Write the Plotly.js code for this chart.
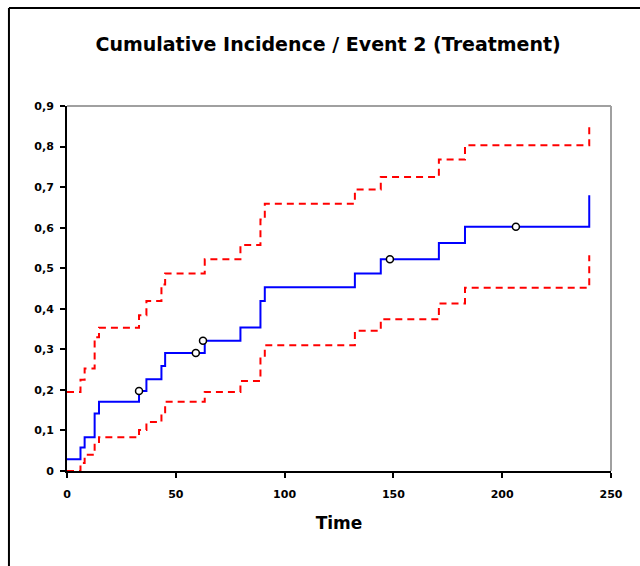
<!DOCTYPE html>
<html>
<head>
<meta charset="utf-8">
<script src="https://cdn.plot.ly/plotly-3.0.1.min.js"></script>
<style>
html,body{margin:0;padding:0;background:#fff;}
#chart{width:640px;height:566px;}
</style>
</head>
<body>
<div id="chart"></div>
<script>
// Step times (event times)
const times = [0, 6.2, 8.1, 12.7, 14.7, 33.1, 36.5, 43.4, 45.1, 63.3, 79.7, 88.9, 90.9, 132.3, 144.2, 170.9, 182.9, 240.0];
// Cumulative incidence estimate
const cif   = [0.029, 0.058, 0.083, 0.142, 0.171, 0.197, 0.226, 0.259, 0.291, 0.321, 0.354, 0.419, 0.453, 0.487, 0.522, 0.562, 0.602, 0.68];
// Upper confidence bound
const upper = [0.195, 0.225, 0.253, 0.33, 0.353, 0.384, 0.419, 0.46, 0.487, 0.522, 0.557, 0.62, 0.659, 0.694, 0.725, 0.768, 0.803, 0.85];
// Lower confidence bound
const lower = [0, 0.02, 0.04, 0.065, 0.083, 0.101, 0.121, 0.145, 0.171, 0.195, 0.222, 0.28, 0.31, 0.346, 0.374, 0.413, 0.452, 0.532];
// Censored observations
const censT = [33.1, 59.2, 62.5, 148.4, 206.3];
const censY = [0.197, 0.291, 0.321, 0.522, 0.602];
// Tick labels
const yTickVals = [0, 0.1, 0.2, 0.3, 0.4, 0.5, 0.6, 0.7, 0.8, 0.9];
const yTickText = ["0", "0,1", "0,2", "0,3", "0,4", "0,5", "0,6", "0,7", "0,8", "0,9"];
const xTickVals = [0, 50, 100, 150, 200, 250];
const xTickText = ["0", "50", "100", "150", "200", "250"];

const FONT = "DejaVu Sans, Verdana, sans-serif";

const traces = [
  {x: times, y: upper, mode: "lines", line: {shape: "hv", color: "#FF0000", width: 2, dash: "7px,5px"}, hoverinfo: "skip"},
  {x: times, y: lower, mode: "lines", line: {shape: "hv", color: "#FF0000", width: 2, dash: "7px,5px"}, hoverinfo: "skip"},
  {x: times, y: cif, mode: "lines", line: {shape: "hv", color: "#0000FF", width: 2}},
  {x: censT, y: censY, mode: "markers", marker: {symbol: "circle", size: 7, color: "#FFFFFF", line: {color: "#000000", width: 1.5}}}
];

const layout = {
  width: 640, height: 566,
  margin: {l: 67, r: 29, t: 106, b: 95, pad: 0},
  paper_bgcolor: "#FFFFFF", plot_bgcolor: "#FFFFFF",
  showlegend: false,
  title: {text: "<b>Cumulative Incidence / Event 2 (Treatment)</b>", font: {family: FONT, size: 19, color: "#000"},
          x: 0.48, xanchor: "center", y: 0.922, yanchor: "middle", xref: "paper", yref: "container"},
  xaxis: {
    range: [0, 250], tickvals: xTickVals, ticktext: xTickText,
    showgrid: false, zeroline: false, showline: true, linecolor: "#000", linewidth: 2,
    ticks: "outside", ticklen: 5, tickwidth: 2, tickcolor: "#000", ticklabelstandoff: 7,
    tickfont: {family: FONT, size: 11, color: "#000", weight: "bold"},
    title: {text: "<b>Time</b>", font: {family: FONT, size: 17, color: "#000"}, standoff: 17}
  },
  yaxis: {
    range: [0, 0.9], tickvals: yTickVals, ticktext: yTickText,
    showgrid: false, zeroline: false, showline: true, linecolor: "#000", linewidth: 2,
    ticks: "outside", ticklen: 5, tickwidth: 2, tickcolor: "#000", ticklabelstandoff: 4,
    tickfont: {family: FONT, size: 11, color: "#000", weight: "bold"}
  },
  shapes: [
    {type: "line", xref: "paper", yref: "paper", x0: 0, x1: 1, y0: 1, y1: 1, line: {color: "#A0A0A0", width: 2}},
    {type: "line", xref: "paper", yref: "paper", x0: 1, x1: 1, y0: 0, y1: 1, line: {color: "#A0A0A0", width: 2}},
    {type: "line", xref: "paper", yref: "paper", x0: -0.1067, x1: 1.2, y0: 1.2685, y1: 1.2685, line: {color: "#000", width: 2}},
    {type: "line", xref: "paper", yref: "paper", x0: -0.1067, x1: -0.1067, y0: 1.2685, y1: -0.4, line: {color: "#000", width: 2}}
  ]
};

Plotly.newPlot("chart", traces, layout, {displayModeBar: false, staticPlot: true});
</script>
</body>
</html>
